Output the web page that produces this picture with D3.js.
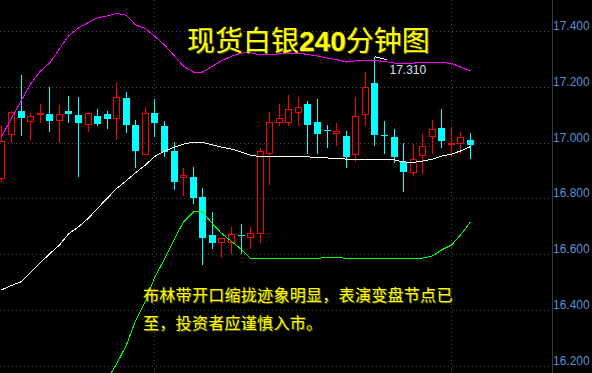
<!DOCTYPE html>
<html><head><meta charset="utf-8">
<script src="https://cdn.jsdelivr.net/npm/d3@7"></script>
<style>html,body{margin:0;padding:0;background:#000;overflow:hidden}svg{display:block}</style>
</head><body><svg id="c" width="592" height="373"></svg>
<script>
// ---- data (240-minute candles, spot silver) ----
const opens  = [16.876,17.032,17.115,17.081,17.103,17.105,17.084,17.115,17.101,17.068,17.097,17.105,17.091,17.162,17.065,16.962,17.108,17.062,16.972,16.880,16.879,16.807,16.671,16.647,16.647,16.672,16.665,16.679,16.966,17.077,17.077,17.113,17.141,17.076,17.046,17.035,17.026,16.962,17.106,17.216,17.031,17.022,16.933,16.898,16.957,17.025,17.054,16.998,17.002,17.011];
const highs  = [17.065,17.115,17.244,17.107,17.141,17.201,17.136,17.169,17.165,17.112,17.123,17.115,17.219,17.184,17.083,17.130,17.158,17.080,17.005,16.912,16.916,16.839,16.753,16.661,16.700,16.711,16.700,16.983,17.112,17.141,17.173,17.166,17.151,17.158,17.065,17.072,17.044,17.166,17.255,17.310,17.080,17.051,17.001,16.996,17.032,17.084,17.124,17.059,17.039,17.037];
const lows   = [16.862,17.002,17.026,17.011,17.073,17.040,17.000,17.073,16.880,17.041,17.063,17.052,17.011,17.038,16.912,16.959,17.023,16.952,16.833,16.812,16.783,16.565,16.622,16.590,16.604,16.604,16.622,16.643,16.851,17.063,17.063,17.063,16.962,16.962,16.984,16.991,16.912,16.934,17.063,16.991,16.962,16.930,16.826,16.884,16.891,16.960,16.984,16.955,16.962,16.944];
const closes = [17.008,17.111,17.091,17.097,17.107,17.080,17.105,17.106,17.073,17.108,17.070,17.088,17.166,17.066,16.973,17.108,17.073,16.970,16.862,16.886,16.805,16.661,16.643,16.660,16.675,16.668,16.677,16.972,17.076,17.090,17.123,17.130,17.066,17.034,17.043,17.042,16.952,17.097,17.201,17.029,17.027,16.952,16.898,16.942,16.990,17.052,17.009,17.001,17.022,16.995];
const upperBand = [17.022,17.090,17.154,17.212,17.259,17.287,17.338,17.384,17.413,17.433,17.449,17.456,17.466,17.458,17.424,17.411,17.384,17.352,17.312,17.276,17.255,17.255,17.276,17.295,17.312,17.323,17.325,17.316,17.318,17.320,17.322,17.323,17.318,17.312,17.305,17.300,17.291,17.295,17.298,17.296,17.293,17.287,17.284,17.287,17.291,17.291,17.289,17.286,17.273,17.259];
const midBand   = [16.474,16.490,16.504,16.537,16.572,16.603,16.635,16.675,16.700,16.732,16.766,16.804,16.837,16.866,16.894,16.922,16.952,16.972,16.986,16.997,17.004,17.003,16.994,16.986,16.979,16.968,16.957,16.952,16.951,16.951,16.952,16.952,16.951,16.949,16.947,16.946,16.943,16.943,16.943,16.942,16.942,16.940,16.933,16.931,16.936,16.943,16.954,16.961,16.972,16.988];
const lowerBand = [15.925,15.890,15.854,15.861,15.886,15.918,15.922,15.965,15.979,16.031,16.083,16.155,16.208,16.277,16.363,16.434,16.517,16.585,16.657,16.718,16.754,16.754,16.711,16.677,16.648,16.619,16.587,16.587,16.587,16.587,16.587,16.587,16.587,16.587,16.591,16.591,16.587,16.587,16.587,16.587,16.587,16.587,16.587,16.587,16.588,16.596,16.617,16.635,16.671,16.718];
const priceTicks = [16.2,16.4,16.6,16.8,17.0,17.2,17.4];
const dayBreaks = [16,47];
const titleParts = [["现货白银",false],["240",true],["分钟图",false]];
const noteLines = ["布林带开口缩拢迹象明显，表演变盘节点已","至，投资者应谨慎入市。"];

// ---- drawing ----
const W=592,H=373,plotRight=552;
const svg=d3.select("#c");
svg.append("rect").attr("width",W).attr("height",H).attr("fill","#000");

const y=d3.scaleLinear().domain([16.2,17.4]).range([366.4,31.6]);
const idx=d3.range(opens.length);
const step=9.5625, r0=-2.84375;
const x=d3.scaleBand().domain(idx).range([r0,r0+idx.length*step]).paddingInner(0.268).paddingOuter(0.134);
const left=i=>Math.round(x(i));
const cx=i=>left(i)+3.5;
const py=v=>Math.floor(y(v))+0.5;

const plot=svg.append("g");
// grid
plot.selectAll("line.h").data(priceTicks).join("line")
  .attr("x1",0).attr("x2",plotRight).attr("y1",d=>py(d)).attr("y2",d=>py(d))
  .attr("stroke","#4a4a4a").attr("stroke-dasharray","1,3");
plot.selectAll("line.v").data(dayBreaks).join("line")
  .attr("x1",d=>cx(d)).attr("x2",d=>cx(d)).attr("y1",0).attr("y2",H)
  .attr("stroke","#4a4a4a").attr("stroke-dasharray","1,3");

// candles
const cg=plot.append("g").attr("shape-rendering","crispEdges");
idx.forEach(i=>{
  const o=opens[i],c=closes[i],h=highs[i],l=lows[i];
  const up=c>=o;
  const col=up?"#ff0000":"#00ffff";
  const top=Math.round(y(Math.max(o,c))), bot=Math.round(y(Math.min(o,c)));
  const yh=Math.round(y(h)), yl=Math.round(y(l));
  const xc=cx(i);
  if(up){
    cg.append("line").attr("x1",xc).attr("x2",xc).attr("y1",yh).attr("y2",top).attr("stroke",col);
    cg.append("line").attr("x1",xc).attr("x2",xc).attr("y1",bot+1).attr("y2",yl).attr("stroke",col);
    cg.append("rect").attr("x",left(i)+0.5).attr("y",top+0.5).attr("width",6).attr("height",Math.max(1,bot-top))
      .attr("fill","none").attr("stroke",col);
  } else {
    cg.append("line").attr("x1",xc).attr("x2",xc).attr("y1",yh).attr("y2",yl).attr("stroke",col);
    cg.append("rect").attr("x",left(i)).attr("y",top).attr("width",7).attr("height",Math.max(1,bot-top)).attr("fill",col);
  }
});

// bollinger lines
const band=(arr,col)=>{
  plot.append("path").datum(arr)
    .attr("d",d3.line().x((d,i)=>cx(i)).y(d=>y(d)))
    .attr("fill","none").attr("stroke",col).attr("stroke-width",1)
    .attr("shape-rendering","crispEdges");
};
band(upperBand,"#ff00ff");
band(midBand,"#ffffff");
band(lowerBand,"#00ff00");

// max marker
const mi=d3.maxIndex(highs);
plot.append("line").attr("x1",cx(mi)).attr("y1",y(highs[mi])).attr("x2",cx(mi)+12).attr("y2",y(highs[mi])+3)
  .attr("stroke","#ffffff").attr("shape-rendering","crispEdges");
plot.append("text").attr("x",cx(mi)+15).attr("y",y(highs[mi])+17)
  .attr("font-family","Liberation Sans, Arial, sans-serif").attr("font-size",12).attr("fill","#d6e6ff")
  .text(d3.format(".3f")(highs[mi]));

// right axis
svg.append("line").attr("x1",plotRight+0.5).attr("x2",plotRight+0.5).attr("y1",0).attr("y2",H).attr("stroke","#3c3c44");
const ax=svg.append("g").attr("transform",`translate(${plotRight},0)`)
  .call(d3.axisRight(y).tickValues(priceTicks).tickFormat(d3.format(".3f")).tickSize(0).tickPadding(1));
ax.select(".domain").remove();
ax.selectAll("text").attr("y",-6).attr("fill","#5b8fd4")
  .attr("font-family","Liberation Sans, Arial, sans-serif").attr("font-size",12);

// title
const addText=(g,xx,yy,parts,size,fill)=>{
  const t=g.append("text").attr("x",xx).attr("y",yy).attr("font-size",size).attr("fill",fill);
  parts.forEach(([s,b])=>t.append("tspan").text(s)
    .attr("font-family",b?"Liberation Sans, Arial, sans-serif":"Noto Sans CJK SC, sans-serif")
    .attr("font-weight",b?"bold":"normal"));
  return t;
};
const tg=svg.append("g");
addText(tg,188,52,titleParts,28,"#5a5a00");
addText(tg,187,51,titleParts,28,"#ffff00");

// note
noteLines.forEach((s,k)=>{
  [["#5a5a00",1],["#ffff00",0]].forEach(([f,o])=>{
    svg.append("text").attr("x",143+o).attr("y",301+k*27.5+o)
      .attr("font-family","Noto Sans CJK SC, sans-serif").attr("font-size",16).attr("letter-spacing",0.3)
      .attr("fill",f).text(s);
  });
});
</script></body></html>
